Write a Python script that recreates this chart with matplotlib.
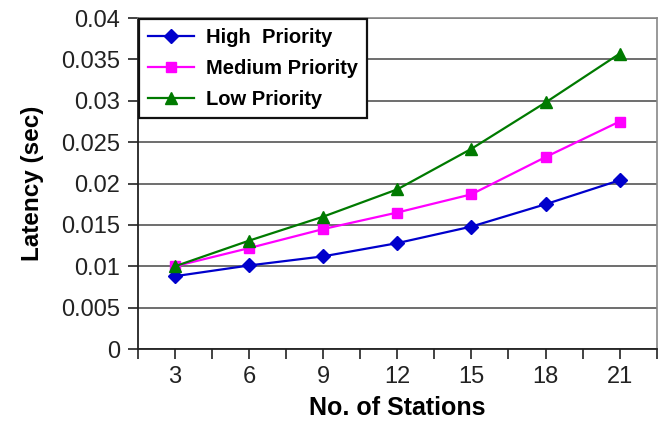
import matplotlib
matplotlib.use("Agg")
import matplotlib.pyplot as plt

plt.rcParams['font.family'] = ['Liberation Sans', 'DejaVu Sans']

stations = [3, 6, 9, 12, 15, 18, 21]
high_priority = [0.0088, 0.0101, 0.0112, 0.0128, 0.0148, 0.0175, 0.0204]
medium_priority = [0.0100, 0.0122, 0.0145, 0.0165, 0.0187, 0.0232, 0.0275]
low_priority = [0.0100, 0.0131, 0.0160, 0.0193, 0.0242, 0.0298, 0.0357]
y_ticks = [0, 0.005, 0.01, 0.015, 0.02, 0.025, 0.03, 0.035, 0.04]
y_tick_labels = ["0", "0.005", "0.01", "0.015", "0.02", "0.025", "0.03", "0.035", "0.04"]

fig = plt.figure(figsize=(6.6, 4.21), dpi=100)
ax = fig.add_axes([0.209, 0.171, 0.786, 0.786])

ax.plot(stations, high_priority, color="#0000cc", marker="D", markersize=7.5,
        linewidth=1.6, label="High  Priority")
ax.plot(stations, medium_priority, color="#ff00ff", marker="s", markersize=7.5,
        linewidth=1.6, label="Medium Priority")
ax.plot(stations, low_priority, color="#007a00", marker="^", markersize=9,
        linewidth=1.6, label="Low Priority")

ax.set_xlim(1.5, 22.5)
ax.set_ylim(0, 0.04)
ax.set_xticks(stations)
ax.set_xticks([1.5 + 3 * i for i in range(8)], minor=True)
ax.set_yticks(y_ticks)
ax.set_yticklabels(y_tick_labels)
ax.tick_params(axis="both", labelsize=17, colors="#222222", length=7, width=1.2)
ax.tick_params(axis="x", which="major", length=7, pad=5)
ax.tick_params(axis="x", which="minor", length=7, width=1.2, color="#222222")
ax.tick_params(axis="y", pad=6)

ax.grid(True, axis="y", color="#555555", linewidth=1.2)
ax.set_axisbelow(True)
for side in ["left", "bottom"]:
    ax.spines[side].set_color("#222222")
    ax.spines[side].set_linewidth(1.3)
for side in ["top", "right"]:
    ax.spines[side].set_color("#888888")
    ax.spines[side].set_linewidth(1.2)

ax.set_xlabel("No. of Stations", fontsize=18, fontweight="bold", labelpad=6)
ax.set_ylabel("Latency (sec)", fontsize=17.5, fontweight="bold", labelpad=12)

leg = ax.legend(loc="upper left", bbox_to_anchor=(0.0, 1.0), fancybox=False,
                framealpha=1, edgecolor="#111111", borderaxespad=0.05,
                prop={"weight": "bold", "size": 14.5}, handlelength=2.3,
                borderpad=0.45, labelspacing=0.6, handletextpad=0.6)
leg.get_frame().set_linewidth(1.6)

fig.savefig("out.png", dpi=100)
